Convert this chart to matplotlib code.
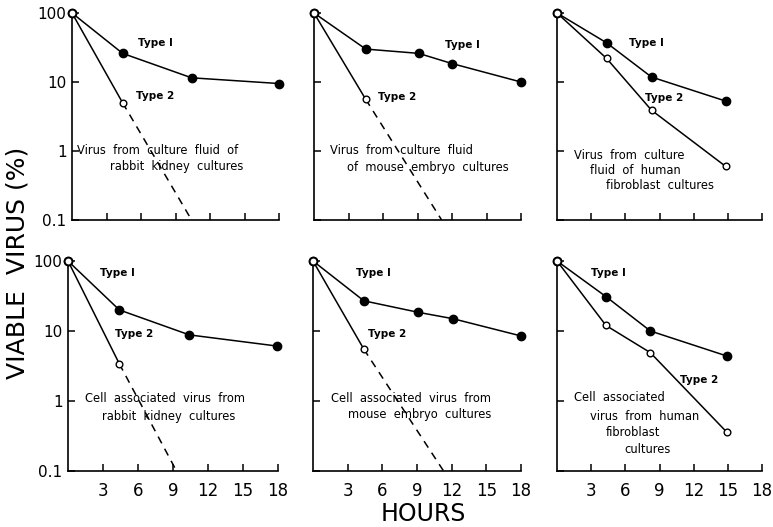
import matplotlib
matplotlib.use("Agg")
import matplotlib.pyplot as plt
from matplotlib.ticker import FixedLocator, FixedFormatter

plt.rcParams['font.family'] = ['DejaVu Sans']

# hours and % viable virus
# top row: virus from culture fluid; bottom row: cell associated virus
rk_fluid_t1_h = [0, 4.4, 10.4, 18]
rk_fluid_t1 = [100, 26, 11.5, 9.5]
rk_fluid_t2_h = [0, 4.4]
rk_fluid_t2 = [100, 5.0]
rk_fluid_t2_extrap = [4.4, 10.4]

me_fluid_t1_h = [0, 4.5, 9.1, 12, 18]
me_fluid_t1 = [100, 30, 26, 18.5, 10]
me_fluid_t2_h = [0, 4.5]
me_fluid_t2 = [100, 5.6]
me_fluid_t2_extrap = [4.5, 11.1]

hf_fluid_t1_h = [0, 4.35, 8.3, 14.8]
hf_fluid_t1 = [100, 37, 11.8, 5.3]
hf_fluid_t2_h = [0, 4.35, 8.3, 14.8]
hf_fluid_t2 = [100, 22, 3.9, 0.6]

rk_cell_t1_h = [0, 4.4, 10.4, 17.9]
rk_cell_t1 = [100, 20, 8.8, 6.1]
rk_cell_t2_h = [0, 4.4]
rk_cell_t2 = [100, 3.4]
rk_cell_t2_extrap = [4.4, 9.3]

me_cell_t1_h = [0, 4.4, 9.1, 12.1, 18]
me_cell_t1 = [100, 27, 18.5, 15, 8.5]
me_cell_t2_h = [0, 4.4]
me_cell_t2 = [100, 5.5]
me_cell_t2_extrap = [4.4, 11.3]

hf_cell_t1_h = [0, 4.3, 8.2, 14.9]
hf_cell_t1 = [100, 31, 10, 4.4]
hf_cell_t2_h = [0, 4.3, 8.2, 14.9]
hf_cell_t2 = [100, 12, 4.9, 0.36]

x_ticks = [3, 6, 9, 12, 15, 18]
y_ticks = [0.1, 1, 10, 100]
y_tick_labels = ['0.1', '1', '10', '100']

fig = plt.figure(figsize=(7.73, 5.27), dpi=100)

W, H = 773.0, 527.0
def make_ax(x0, x1, y0, y1):
    return fig.add_axes([x0 / W, 1 - y1 / H, (x1 - x0) / W, (y1 - y0) / H])

axes = [
    make_ax(72, 279, 13, 220), make_ax(314, 521, 13, 220), make_ax(557, 762, 13, 220),
    make_ax(68, 278, 261, 471), make_ax(313, 521, 261, 471), make_ax(557, 762, 261, 471),
]

lw = 1.1
def type1(ax, h, v):
    ax.plot(h, v, color='black', lw=lw, marker='o', ms=6, mfc='black', mec='black',
            clip_on=False, zorder=3)

def type2(ax, h, v):
    ax.plot(h, v, color='black', lw=lw, marker='o', ms=4.8, mfc='white', mec='black',
            mew=1.0, clip_on=False, zorder=3)

def extrap(ax, h, v_start):
    ax.plot(h, [v_start, 0.1], color='black', lw=lw, ls=(0, (5, 4)), zorder=2)

def start(ax):
    ax.plot([0], [100], marker='o', ms=5.5, mfc='white', mec='black', mew=1.3,
            clip_on=False, zorder=5)

type1(axes[0], rk_fluid_t1_h, rk_fluid_t1)
type2(axes[0], rk_fluid_t2_h, rk_fluid_t2)
extrap(axes[0], rk_fluid_t2_extrap, rk_fluid_t2[-1])

type1(axes[1], me_fluid_t1_h, me_fluid_t1)
type2(axes[1], me_fluid_t2_h, me_fluid_t2)
extrap(axes[1], me_fluid_t2_extrap, me_fluid_t2[-1])

type1(axes[2], hf_fluid_t1_h, hf_fluid_t1)
type2(axes[2], hf_fluid_t2_h, hf_fluid_t2)

type1(axes[3], rk_cell_t1_h, rk_cell_t1)
type2(axes[3], rk_cell_t2_h, rk_cell_t2)
extrap(axes[3], rk_cell_t2_extrap, rk_cell_t2[-1])

type1(axes[4], me_cell_t1_h, me_cell_t1)
type2(axes[4], me_cell_t2_h, me_cell_t2)
extrap(axes[4], me_cell_t2_extrap, me_cell_t2[-1])

type1(axes[5], hf_cell_t1_h, hf_cell_t1)
type2(axes[5], hf_cell_t2_h, hf_cell_t2)

for i, ax in enumerate(axes):
    start(ax)
    ax.set_yscale('log')
    ax.set_xlim(0, 18)
    ax.set_ylim(0.1, 100)
    for s in ['top', 'right']:
        ax.spines[s].set_visible(False)
    for s in ['left', 'bottom']:
        ax.spines[s].set_linewidth(1.2)
    ax.xaxis.set_major_locator(FixedLocator(x_ticks))
    ax.yaxis.set_major_locator(FixedLocator(y_ticks))
    ax.yaxis.set_minor_locator(FixedLocator([]))
    ax.yaxis.set_major_formatter(FixedFormatter(y_tick_labels))
    ax.tick_params(direction='in', length=5, width=1.1, labelsize=11, pad=4)
    if i in (0, 3):
        ax.tick_params(axis='y', labelleft=True, labelsize=11)
    else:
        ax.tick_params(axis='y', labelleft=False)
    if i < 3:
        ax.tick_params(axis='x', labelbottom=False)
    else:
        ax.tick_params(axis='x', labelsize=12, pad=8)

tk = dict(fontsize=7.5, fontweight='bold', va='center', ha='left')
nt = dict(fontsize=8.3, va='center', ha='left')

a = axes[0]
a.text(5.7, 37, 'Type I', **tk)
a.text(5.6, 6.3, 'Type 2', **tk)
a.text(0.4, 1.0, 'Virus  from  culture  fluid  of', **nt)
a.text(3.3, 0.6, 'rabbit  kidney  cultures', **nt)

a = axes[1]
a.text(11.4, 34, 'Type I', **tk)
a.text(5.6, 6.0, 'Type 2', **tk)
a.text(1.4, 1.0, 'Virus  from  culture  fluid', **nt)
a.text(2.9, 0.57, 'of  mouse  embryo  cultures', **nt)

a = axes[2]
a.text(6.3, 37, 'Type I', **tk)
a.text(7.7, 5.9, 'Type 2', **tk)
a.text(1.5, 0.87, 'Virus  from  culture', **nt)
a.text(2.9, 0.53, 'fluid  of  human', **nt)
a.text(4.3, 0.32, 'fibroblast  cultures', **nt)

a = axes[3]
a.text(2.7, 67, 'Type I', **tk)
a.text(4.0, 9.1, 'Type 2', **tk)
a.text(1.45, 1.1, 'Cell  associated  virus  from', **nt)
a.text(2.9, 0.61, 'rabbit  kidney  cultures', **nt)

a = axes[4]
a.text(3.7, 67, 'Type I', **tk)
a.text(4.8, 9.1, 'Type 2', **tk)
a.text(1.6, 1.1, 'Cell  associated  virus  from', **nt)
a.text(3.0, 0.65, 'mouse  embryo  cultures', **nt)

a = axes[5]
a.text(3.0, 67, 'Type I', **tk)
a.text(10.8, 2.0, 'Type 2', **tk)
a.text(1.5, 1.14, 'Cell  associated', **nt)
a.text(2.9, 0.61, 'virus  from  human', **nt)
a.text(4.3, 0.35, 'fibroblast', **nt)
a.text(5.9, 0.2, 'cultures', **nt)

fig.text(18 / W, 1 - 263 / H, 'VIABLE  VIRUS (%)', rotation=90, fontsize=18,
         ha='center', va='center')
fig.text(423 / W, 1 - 514 / H, 'HOURS', fontsize=17, ha='center', va='center')

fig.savefig('out.png', dpi=100)
